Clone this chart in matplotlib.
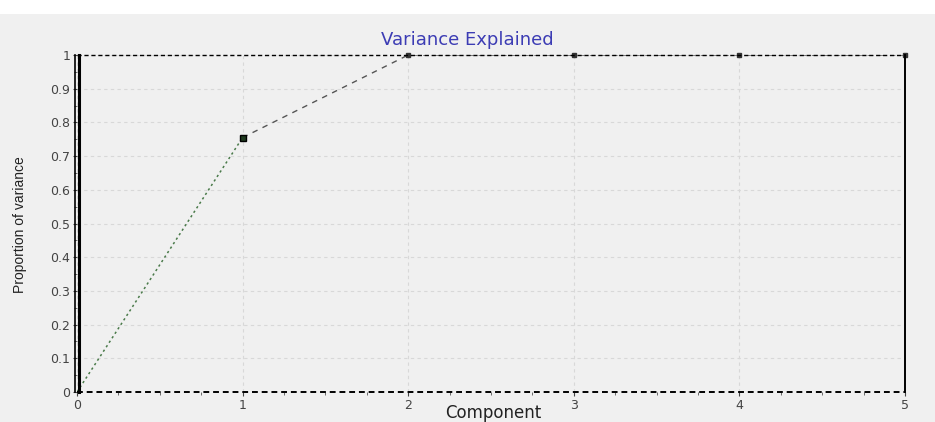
import numpy as np
import matplotlib.pyplot as plt
from matplotlib.ticker import MultipleLocator

components = [0, 1, 2, 3, 4, 5]
proportion = [0.0, 0.755, 1.0, 1.0, 1.0, 1.0]
x_ticks = [0, 1, 2, 3, 4, 5]
y_ticks = [0, 0.1, 0.2, 0.3, 0.4, 0.5, 0.6, 0.7, 0.8, 0.9, 1]
y_labels = ["0", "0.1", "0.2", "0.3", "0.4", "0.5", "0.6", "0.7", "0.8", "0.9", "1"]

W, H = 935, 422
fig = plt.figure(figsize=(W / 100, H / 100), dpi=100)
fig.patch.set_facecolor("white")
# grey panel behind the plot, white strip on top
fig.add_artist(plt.Rectangle((0, 0), 1, (H - 14) / H, transform=fig.transFigure,
                             facecolor="#f0f0f0", edgecolor="none", zorder=0))

ax = fig.add_axes([77 / W, 30 / H, (905 - 77) / W, (392 - 55) / H])
ax.set_facecolor("#f0f0f0")

# segment 0 -> 1 dotted, rest dashed
ax.plot(components[:2], proportion[:2], color="#4a7a4a", linestyle=(0, (1.5, 2)), lw=1.1)
ax.plot(components[1:], proportion[1:], color="#555555", linestyle=(0, (4, 4)), lw=1.0)
ax.plot(components[1:2], proportion[1:2], marker="s", ms=5, color="#1e3a1e", mec="black", ls="none")
ax.plot(components[2:], proportion[2:], marker="s", ms=3, color="#333333", ls="none", clip_on=False)

ax.set_xlim(0, 5)
ax.set_ylim(0, 1)
ax.set_xticks(x_ticks)
ax.set_yticks(y_ticks)
ax.set_yticklabels(y_labels)
ax.xaxis.set_minor_locator(MultipleLocator(0.25))
ax.yaxis.set_minor_locator(MultipleLocator(0.05))
ax.tick_params(which="major", length=3, labelsize=9, colors="#444444", direction="out", pad=2)
ax.tick_params(which="minor", length=2, colors="#555555", direction="out")
ax.grid(True, which="major", color="#d8d8d8", linestyle=(0, (3, 3)), lw=0.8)

for side in ["top", "bottom", "left", "right"]:
    ax.spines[side].set_visible(False)
# borders drawn as lines to mimic the original
ax.plot([0, 1], [1, 1], transform=ax.transAxes, color="black", ls=(0, (3, 2)), lw=1.0, clip_on=False)
ax.plot([0, 1], [0, 0], transform=ax.transAxes, color="black", ls=(0, (3, 2)), lw=1.4, clip_on=False)
ax.plot([1, 1], [0, 1], transform=ax.transAxes, color="black", lw=1.4, clip_on=False)
ax.plot([-0.002, -0.002], [0, 1], transform=ax.transAxes, color="black", lw=1.2, clip_on=False)
ax.plot([0.003, 0.003], [0, 1], transform=ax.transAxes, color="black", lw=2.2, clip_on=False)

fig.text(467 / W, 1 - 40 / H, "Variance Explained", color="#3c3cb4", fontsize=13,
         ha="center", va="center")
fig.text(493 / W, 1 - 413 / H, "Component", fontsize=12, color="#222222",
         ha="center", va="center")
fig.text(20 / W, 1 - 225 / H, "Proportion of variance", fontsize=10, family="Liberation Sans",
         rotation=90, ha="center", va="center", color="#222222")

fig.savefig("out.png", dpi=100, facecolor=fig.get_facecolor())
